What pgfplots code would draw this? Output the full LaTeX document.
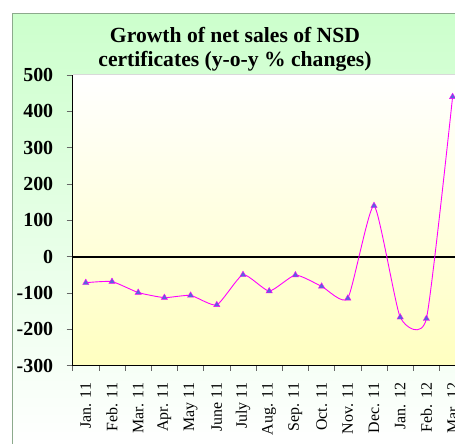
\documentclass[border=0pt]{standalone}
\usepackage{fontspec}
\setmainfont{Liberation Serif}
\usepackage{pgfplots}
\pgfplotsset{compat=1.18}
\definecolor{framegreen}{RGB}{204,255,204}
\definecolor{framegray}{RGB}{140,170,140}
\definecolor{plotyellow}{RGB}{255,255,192}
\definecolor{linemag}{RGB}{255,0,255}
\definecolor{markblue}{RGB}{90,100,220}

\begin{document}
\begin{tikzpicture}
\path (0bp,0bp) rectangle (455bp,444bp);
\clip (0bp,0bp) rectangle (455bp,444bp);
% chart area
\shade[top color=framegreen, bottom color=white] (12.7bp,0bp) rectangle (455bp,430.7bp);
\draw[framegray, line width=0.8bp] (12.7bp,-5bp) -- (12.7bp,430.7bp) -- (470bp,430.7bp);
% title
\node[font=\fontsize{21.7}{24}\selectfont\bfseries, anchor=base] at (235bp,401.7bp) {Growth of net sales of NSD};
\node[font=\fontsize{21.7}{24}\selectfont\bfseries, anchor=base] at (235bp,377.3bp) {certificates (y-o-y \% changes)};

\begin{pgfinterruptboundingbox}
\begin{axis}[
    at={(72.7bp,78.5bp)}, anchor=south west,
    scale only axis, width=393bp, height=290.5bp,
    xmin=-0.5, xmax=14.5, ymin=-300, ymax=500,
    ytick={-300,-200,...,500},
    xtick={0,...,14},
    xticklabels={Jan. 11, Feb. 11, Mar. 11, Apr. 11, May 11, June 11, July 11, Aug. 11,
                 Sep. 11, Oct. 11, Nov. 11, Dec. 11, Jan. 12, Feb. 12, Mar. 12},
    minor xtick={-0.5,0.5,...,14.5},
    axis x line*=bottom, axis y line*=left,
    axis line style={black, line width=1.3bp},
    tick align=outside,
    major tick length=6bp, minor tick length=5bp,
    every tick/.style={black!60, line width=0.6bp},
    major x tick style={draw=none},
    /pgf/number format/assume math mode=true,
    yticklabel shift=10bp,
    xticklabel shift=8bp,
    yticklabel style={font=\fontsize{20}{20}\selectfont\bfseries},
    xticklabel style={rotate=90, anchor=east, font=\fontsize{16}{16}\selectfont},
    axis background/.style={shade, top color=white, bottom color=plotyellow},
]
\draw[black!15, line width=1bp] (rel axis cs:0,1) -- (rel axis cs:1,1);
\draw[black, line width=2bp] (axis cs:-0.5,0) -- (axis cs:14.5,0);
\addplot[linemag, line width=0.9bp, smooth, tension=0.33,
    mark=triangle*, mark size=3.6bp,
    mark options={fill=markblue, draw=linemag, line width=0.4bp}]
coordinates {
    (0,-72) (1,-69) (2,-99) (3,-113) (4,-107) (5,-133) (6,-50)
    (7,-95) (8,-51) (9,-82) (10,-115) (11,140) (12,-167) (13,-171) (14,440)
};
\end{axis}
\end{pgfinterruptboundingbox}
\end{tikzpicture}
\end{document}
